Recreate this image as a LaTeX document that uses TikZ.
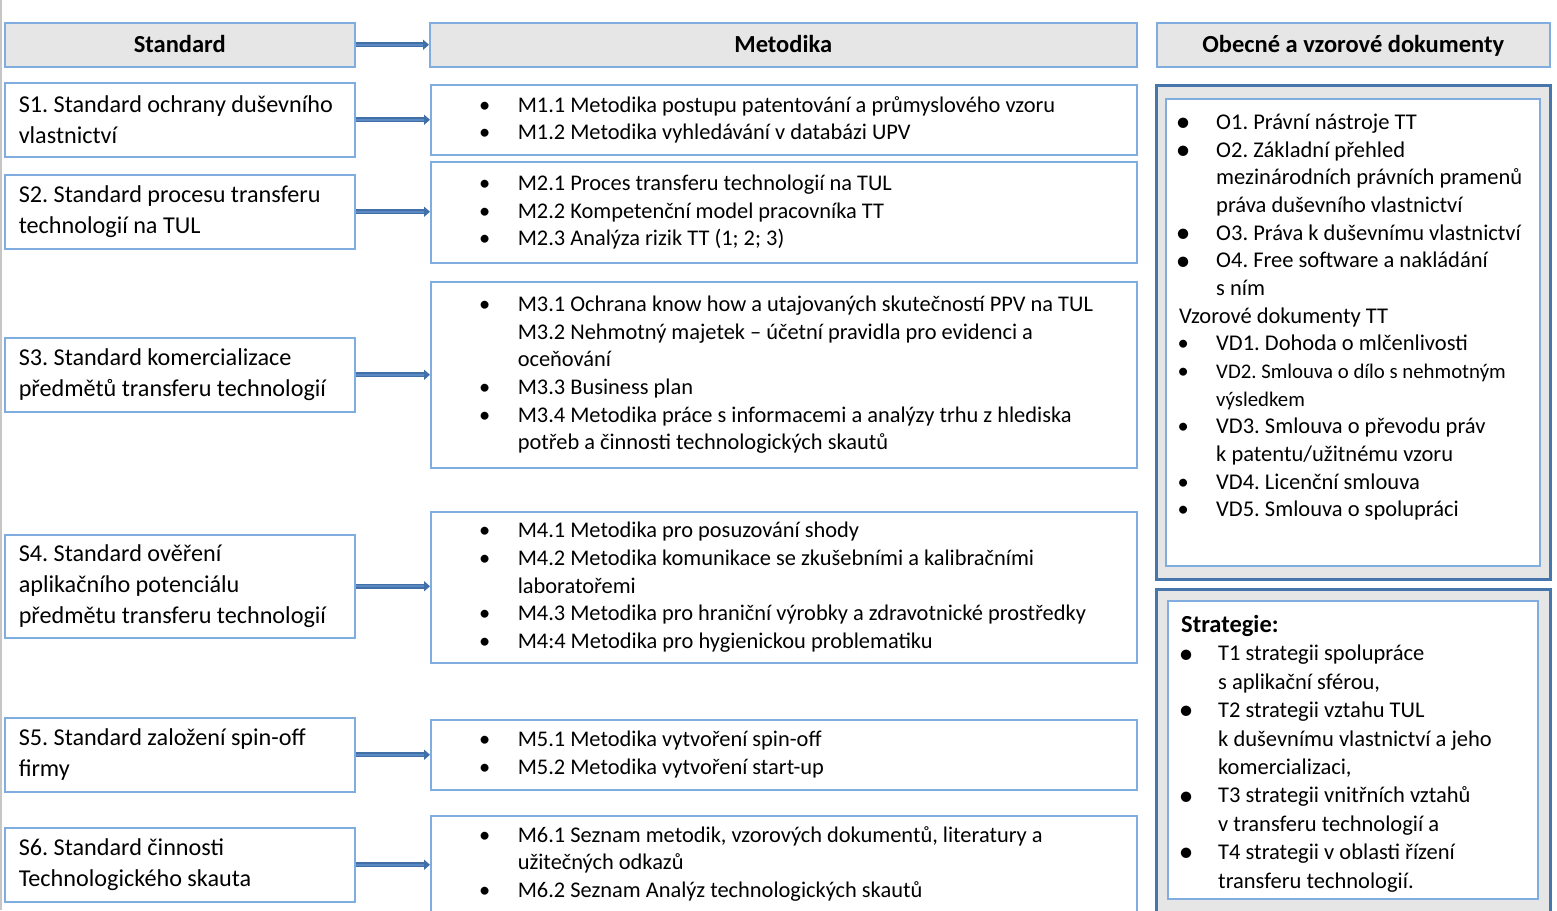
\documentclass[tikz,border=0pt]{standalone}
\usepackage{fontspec}
\usepackage{graphicx}
\setmainfont{Carlito}
\usetikzlibrary{arrows.meta,calc}

\definecolor{hdrfill}{HTML}{E6E6E6}
\definecolor{lineblue}{HTML}{80ACE0}
\definecolor{frameblue}{HTML}{4676AC}
\definecolor{arrowdark}{HTML}{416FA8}
\definecolor{arrowlight}{HTML}{5A89C4}

% bullet centred at #1 pt from the left edge, text starting at #2 pt
\newcommand\bulat[3]{\hspace*{\dimexpr #1pt-6pt\relax}\makebox[12pt][c]{#3}\hspace*{\dimexpr #2pt-#1pt-6pt\relax}}
\newcommand\bigdot{\raisebox{-0.1em}{\scalebox{1.3}{\textbullet}}}
% middle column
\newcommand\mb{\bulat{54}{87}{\textbullet}}
\newcommand\mc{\hspace*{87pt}}
% left column
\newcommand\lft{\hspace*{14pt}}
% documents list
\newcommand\ob{\bulat{18}{51}{\bigdot}}
\newcommand\os{\bulat{18}{51}{\textbullet}}
\newcommand\oc{\hspace*{51pt}}
% strategy list
\newcommand\tb{\bulat{19}{51}{\bigdot}}
\newcommand\tc{\hspace*{51pt}}

\begin{document}
\frenchspacing
\begin{tikzpicture}[x=1pt,y=-1pt,
  hdr/.style={draw=lineblue, fill=hdrfill, line width=1.5pt, inner sep=0pt,
    anchor=north west, minimum height=44pt, text height=18pt, text depth=2.6pt,
    font=\fontsize{24.5}{28}\selectfont\bfseries},
  sbox/.style={draw=lineblue, line width=1.5pt, inner sep=0pt, anchor=north west,
    minimum width=350pt, text width=350pt, align=flush left,
    font=\fontsize{24.2}{31}\selectfont},
  mbox/.style={draw=lineblue, line width=1.5pt, inner sep=0pt, anchor=north west,
    minimum width=706pt, text width=706pt, align=flush left,
    font=\fontsize{22.4}{27.6}\selectfont},
  outerbox/.style={draw=frameblue, line width=3pt, fill=hdrfill, inner sep=0pt,
    anchor=north west},
  innerbox/.style={draw=lineblue, line width=1.5pt, fill=white, inner sep=0pt,
    anchor=north west},
  listtext/.style={inner sep=0pt, align=left, font=\fontsize{22.5}{27.64}\selectfont},
  link/.style={line width=5pt, draw=arrowdark, -{Triangle[length=6pt,width=10pt]},
    postaction={draw=arrowlight, line width=1.6pt, -, shorten >=6pt}}
]
\useasboundingbox (0,0) rectangle (1557,910);
\fill[white] (0,0) rectangle (1557,910);
\draw[gray!45, line width=2pt] (1,0) -- (1,910);

% column headers
\node[hdr, minimum width=350pt] (hs) at (4,22) {Standard};
\node[hdr, minimum width=707pt] (hm) at (429,22) {Metodika};
\node[hdr, minimum width=393pt] (ho) at (1156,22) {Obecné a vzorové dokumenty};

% standards
\node[sbox, minimum height=74pt] (s1) at (4,82)
  {\lft S1. Standard ochrany duševního\\\lft vlastnictví};
\node[sbox, minimum height=74pt] (s2) at (4,174)
  {\lft S2. Standard procesu transferu\\\lft technologií na TUL};
\node[sbox, minimum height=74pt] (s3) at (4,337)
  {\lft S3. Standard komercializace\\\lft předmětů transferu technologií};
\node[sbox, minimum height=103pt] (s4) at (4,534)
  {\lft S4. Standard ověření\\\lft aplikačního potenciálu\\\lft předmětu transferu technologií};
\node[sbox, minimum height=74pt] (s5) at (4,717)
  {\lft S5. Standard založení spin-off\\\lft firmy};
\node[sbox, minimum height=74pt] (s6) at (4,827)
  {\lft S6. Standard činnosti\\\lft Technologického skauta};

% methodologies
\node[mbox, minimum height=70pt] (m1) at (430,84)
  {\mb M1.1 Metodika postupu patentování a průmyslového vzoru\\
   \mb M1.2 Metodika vyhledávání v databázi UPV};
\node[mbox, minimum height=101pt] (m2) at (430,161)
  {\mb M2.1 Proces transferu technologií na TUL\\
   \mb M2.2 Kompetenční model pracovníka TT\\
   \mb M2.3 Analýza rizik TT (1; 2; 3)};
\node[mbox, minimum height=186pt] (m3) at (430,281)
  {\mb M3.1 Ochrana know how a utajovaných skutečností PPV na TUL\\
   \mc M3.2 Nehmotný majetek – účetní pravidla pro evidenci a\\
   \mc oceňování\\
   \mb M3.3 Business plan\\
   \mb M3.4 Metodika práce s informacemi a analýzy trhu z hlediska\\
   \mc potřeb a činnosti technologických skautů};
\node[mbox, minimum height=151pt] (m4) at (430,511)
  {\mb M4.1 Metodika pro posuzování shody\\
   \mb M4.2 Metodika komunikace se zkušebními a kalibračními\\
   \mc laboratořemi\\
   \mb M4.3 Metodika pro hraniční výrobky a zdravotnické prostředky\\
   \mb M4:4 Metodika pro hygienickou problematiku};
\node[mbox, minimum height=70pt] (m5) at (430,719)
  {\mb M5.1 Metodika vytvoření spin-off\\
   \mb M5.2 Metodika vytvoření start-up};
\node[mbox, minimum height=96pt] (m6) at (430,815)
  {\mb M6.1 Seznam metodik, vzorových dokumentů, literatury a\\
   \mc užitečných odkazů\\
   \mb M6.2 Seznam Analýz technologických skautů};

% arrows between the columns
\draw[link] (hs.east) -- (hs.east -| hm.west);
\foreach \s/\m in {s1/m1,s2/m2,s3/m3,s4/m4,s5/m5,s6/m6}
  \draw[link] (\s.east) -- (\s.east -| \m.west);

% general and template documents
\node[outerbox, minimum width=394pt, minimum height=494pt] (oout) at (1155,84) {};
\node[innerbox, minimum width=374pt, minimum height=467pt] (oin) at (1165,98) {};
\node[listtext, anchor=north west] (olist) at ($(oin.north west)+(0,16)$)
  {\ob O1. Právní nástroje TT\\
   \ob O2. Základní přehled\\
   \oc mezinárodních právních pramenů\\
   \oc práva duševního vlastnictví\\
   \ob O3. Práva k duševnímu vlastnictví\\
   \ob O4. Free software a nakládání\\
   \oc s ním\\
   \hspace*{14pt}Vzorové dokumenty TT\\
   \os VD1. Dohoda o mlčenlivosti\\
   \os {\fontsize{20.8}{27.64}\selectfont VD2. Smlouva o dílo s nehmotným}\\
   \oc {\fontsize{20.8}{27.64}\selectfont výsledkem}\\
   \os VD3. Smlouva o převodu práv\\
   \oc k patentu/užitnému vzoru\\
   \os VD4. Licenční smlouva\\
   \os VD5. Smlouva o spolupráci};

% strategies
\node[outerbox, minimum width=394pt, minimum height=340pt] (tout) at (1155,588) {};
\node[innerbox, minimum width=370pt, minimum height=298pt] (tin) at (1167,600) {};
\node[listtext, anchor=north west, font=\fontsize{22.5}{28.4}\selectfont] (tlist)
  at ($(tin.north west)+(0,15)$)
  {\hspace*{14pt}{\fontsize{24.5}{28.4}\selectfont\bfseries Strategie:}\\
   \tb T1 strategii spolupráce\\
   \tc s aplikační sférou,\\
   \tb T2 strategii vztahu TUL\\
   \tc k duševnímu vlastnictví a jeho\\
   \tc komercializaci,\\
   \tb T3 strategii vnitřních vztahů\\
   \tc v transferu technologií a\\
   \tb T4 strategii v oblasti řízení\\
   \tc transferu technologií.};
\end{tikzpicture}
\end{document}
